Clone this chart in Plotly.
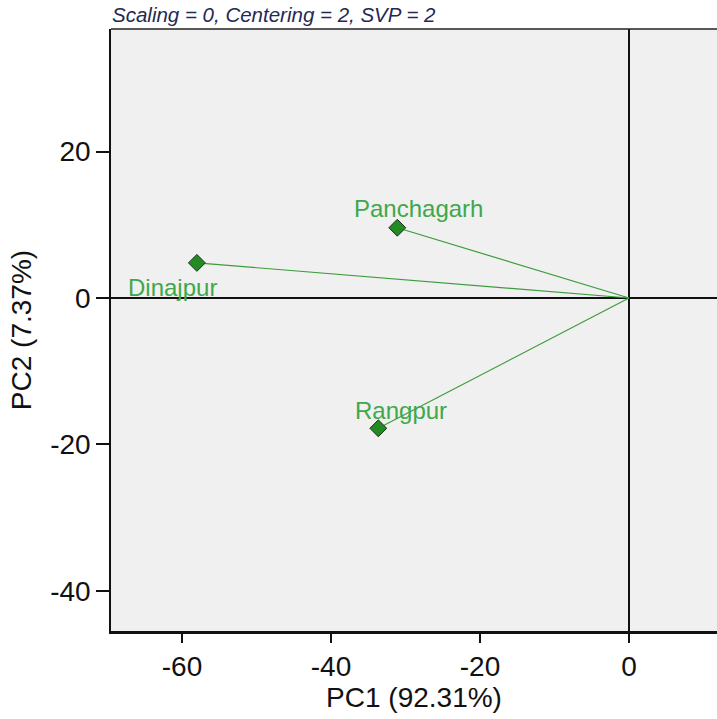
import plotly.graph_objects as go

# PCA biplot scores (PC1, PC2) for each district
districts = ["Dinajpur", "Panchagarh", "Rangpur"]
pc1 = [-58.0, -31.1, -33.65]
pc2 = [4.8, 9.6, -17.8]

x_ticks = [-60, -40, -20, 0]
y_ticks = [-40, -20, 0, 20]

# label offsets in pixels relative to each point
label_dx = [-24, 21, 23]
label_dy = [-25, 19, 18]

FONT = "Liberation Sans, Arial, sans-serif"
LINE_GREEN = "#3c9d3c"
TEXT_GREEN = "#3ea84a"
MARKER_GREEN = "#228b22"

fig = go.Figure()

# vectors from the origin to each score
for x, y in zip(pc1, pc2):
    fig.add_trace(go.Scatter(
        x=[0, x], y=[0, y], mode="lines",
        line=dict(color=LINE_GREEN, width=1.2),
        hoverinfo="skip", showlegend=False,
    ))

fig.add_trace(go.Scatter(
    x=pc1, y=pc2, mode="markers", text=districts,
    marker=dict(symbol="diamond", size=13, color=MARKER_GREEN,
                line=dict(color="#1b2e1b", width=1)),
    showlegend=False,
))

for name, x, y, dx, dy in zip(districts, pc1, pc2, label_dx, label_dy):
    fig.add_annotation(
        x=x, y=y, text=name, showarrow=False,
        xshift=dx, yshift=dy,
        font=dict(family=FONT, size=24, color=TEXT_GREEN),
    )

fig.add_annotation(
    x=0, y=1, xref="paper", yref="paper",
    xanchor="left", yanchor="bottom", yshift=1, xshift=-1,
    text="<i>Scaling = 0, Centering = 2, SVP = 2</i>",
    showarrow=False,
    font=dict(family=FONT, size=20.5, color="#1f2a55"),
)

# top border of the plotting frame
fig.add_shape(type="line", xref="paper", yref="paper",
              x0=0, x1=1, y0=1, y1=1,
              line=dict(color="#222", width=1.5))

fig.update_layout(
    width=717, height=719,
    margin=dict(l=111, r=0, t=29, b=88),
    paper_bgcolor="white",
    plot_bgcolor="#f0f0f0",
    font=dict(family=FONT, color="#111"),
)

fig.update_xaxes(
    range=[-69.53, 11.81],
    tickvals=x_ticks, ticktext=[str(v) for v in x_ticks],
    ticks="outside", ticklen=9, tickwidth=1.5, tickcolor="#111",
    tickfont=dict(size=28, family=FONT, color="#111"),
    showgrid=False,
    zeroline=True, zerolinecolor="#111", zerolinewidth=1.5,
    showline=True, linecolor="#111", linewidth=2.5,
    title=dict(text="PC1 (92.31%)", font=dict(size=28, family=FONT, color="#111"), standoff=6),
)

fig.update_yaxes(
    range=[-45.49, 36.75],
    tickvals=y_ticks, ticktext=[str(v) for v in y_ticks],
    ticks="outside", ticklen=13, tickwidth=1.5, tickcolor="#111",
    tickfont=dict(size=28, family=FONT, color="#111"),
    showgrid=False,
    zeroline=True, zerolinecolor="#111", zerolinewidth=1.5,
    showline=True, linecolor="#111", linewidth=1.5,
    title=dict(text="PC2 (7.37%)", font=dict(size=28, family=FONT, color="#111"), standoff=10),
)

fig.write_html("out.html")
